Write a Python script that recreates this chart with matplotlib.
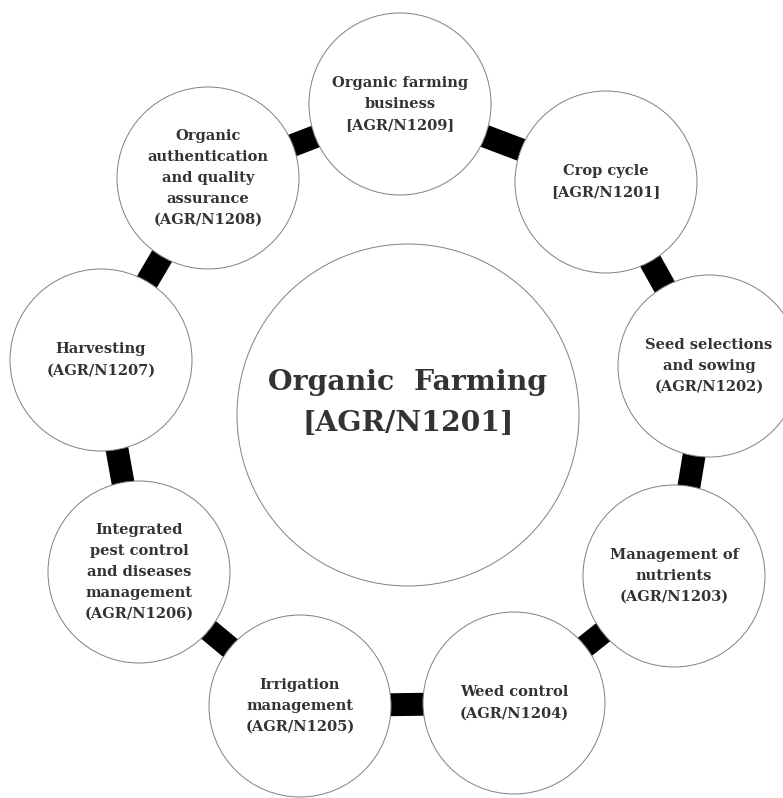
import matplotlib.pyplot as plt
from matplotlib.patches import Circle

# satellite nodes, clockwise from the top
labels = [
    "Organic farming\nbusiness\n[AGR/N1209]",
    "Crop cycle\n[AGR/N1201]",
    "Seed selections\nand sowing\n(AGR/N1202)",
    "Management of\nnutrients\n(AGR/N1203)",
    "Weed control\n(AGR/N1204)",
    "Irrigation\nmanagement\n(AGR/N1205)",
    "Integrated\npest control\nand diseases\nmanagement\n(AGR/N1206)",
    "Harvesting\n(AGR/N1207)",
    "Organic\nauthentication\nand quality\nassurance\n(AGR/N1208)",
]
center_label = "Organic  Farming\n[AGR/N1201]"

# node centres (pixel units, y down)
node_x = [400, 606, 709, 674, 514, 300, 139, 101, 208]
node_y = [104, 182, 366, 576, 703, 706, 572, 360, 178]
node_r = 91
hub_x, hub_y, hub_r = 408, 415, 171

fig = plt.figure(figsize=(7.83, 7.98), dpi=100)
ax = fig.add_axes([0, 0, 1, 1])
ax.set_xlim(0, 783)
ax.set_ylim(798, 0)
ax.set_aspect("equal")
ax.axis("off")

text_color = "#333333"
edge = "#808080"

# black links around the ring, drawn under the white circles
n = len(labels)
for i in range(n):
    j = (i + 1) % n
    ax.plot([node_x[i], node_x[j]], [node_y[i], node_y[j]],
            color="black", lw=16.5, solid_capstyle="butt", zorder=1)

ax.add_patch(Circle((hub_x, hub_y), hub_r, facecolor="white",
                    edgecolor=edge, lw=0.7, zorder=2))
ax.text(hub_x, hub_y - 12, center_label, ha="center", va="center",
        fontsize=20.3, fontweight="bold", family="DejaVu Serif",
        color=text_color, linespacing=1.65, zorder=3)

for x, y, lab in zip(node_x, node_y, labels):
    ax.add_patch(Circle((x, y), node_r, facecolor="white",
                        edgecolor=edge, lw=0.7, zorder=2))
    ax.text(x, y, lab, ha="center", va="center", fontsize=10.5,
            fontweight="bold", family="DejaVu Serif", color=text_color,
            linespacing=1.64, zorder=3)

fig.savefig("out.png", dpi=100)
